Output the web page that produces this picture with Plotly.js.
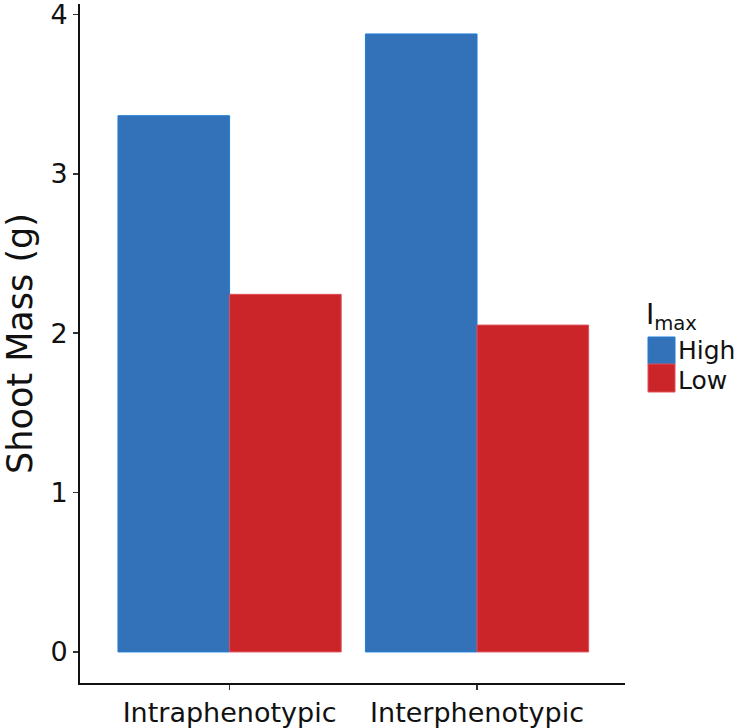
<!DOCTYPE html>
<html>
<head>
<meta charset="utf-8">
<script src="https://cdn.plot.ly/plotly-3.0.1.min.js"></script>
<style>html,body{margin:0;padding:0;background:#fff;}#chart{width:746px;height:728px;}</style>
</head>
<body>
<div id="chart"></div>
<script>
var categories = ["Intraphenotypic", "Interphenotypic"];
var seriesNames = ["High", "Low"];
var highValues = [3.365, 3.878];
var lowValues = [2.244, 2.051];
var yTicks = [0, 1, 2, 3, 4];
var yTitle = "Shoot Mass (g)";
var legendTitle = "I<sub>max</sub>";

var blue = "rgb(51,114,185)";
var red = "rgb(203,37,41)";
var FONT = "DejaVu Sans, Liberation Sans, Arial, sans-serif";

var traces = [
  {type: "bar", name: seriesNames[0], x: categories, y: highValues,
   marker: {color: blue, line: {color: "rgb(30,125,215)", width: 1}}, showlegend: false, hoverinfo: "none"},
  {type: "bar", name: seriesNames[1], x: categories, y: lowValues,
   marker: {color: red, line: {color: "rgb(225,80,90)", width: 1}}, showlegend: false, hoverinfo: "none"}
];

function py(p) { return (683 - p) / 679; }
function px(p) { return (p - 80) / 545; }

var layout = {
  width: 746, height: 728,
  margin: {l: 80, r: 121, t: 4, b: 45},
  paper_bgcolor: "#fff", plot_bgcolor: "#fff",
  barmode: "group", bargap: 0.098, bargroupgap: 0,
  font: {family: FONT, color: "#111"},
  xaxis: {
    type: "category", range: [-0.6045, 1.598],
    showline: true, linecolor: "#111", linewidth: 2,
    ticks: "outside", ticklen: 5, tickwidth: 1.5, tickcolor: "#333",
    tickfont: {size: 27, family: FONT, color: "#111"},
    showgrid: false, zeroline: false
  },
  yaxis: {
    range: [-0.195, 4.066],
    tickvals: yTicks, ticktext: yTicks.map(String),
    ticklabeloverflow: "allow",
    showline: true, linecolor: "#111", linewidth: 2,
    ticks: "outside", ticklen: 5, tickwidth: 1.5, tickcolor: "#333",
    tickfont: {size: 27, family: FONT, color: "#111"},
    title: {text: yTitle, font: {size: 35, family: FONT, color: "#111"}, standoff: 16},
    showgrid: false, zeroline: false
  },
  shapes: [
    {type: "rect", xref: "paper", yref: "paper", x0: px(648), x1: px(675), y0: py(364), y1: py(337),
     fillcolor: blue, line: {color: "rgb(30,125,215)", width: 1}},
    {type: "rect", xref: "paper", yref: "paper", x0: px(648), x1: px(675), y0: py(392), y1: py(364),
     fillcolor: red, line: {color: "rgb(225,80,90)", width: 1}}
  ],
  annotations: [
    {xref: "paper", yref: "paper", x: px(645), y: py(316), xanchor: "left", yanchor: "middle",
     borderpad: 0, text: legendTitle, showarrow: false, font: {size: 28, family: FONT, color: "#111"}},
    {xref: "paper", yref: "paper", x: px(677), y: py(350), xanchor: "left", yanchor: "middle",
     borderpad: 0, text: seriesNames[0], showarrow: false, font: {size: 25, family: FONT, color: "#111"}},
    {xref: "paper", yref: "paper", x: px(677), y: py(380), xanchor: "left", yanchor: "middle",
     borderpad: 0, text: seriesNames[1], showarrow: false, font: {size: 25, family: FONT, color: "#111"}}
  ]
};

Plotly.newPlot("chart", traces, layout, {staticPlot: true, displayModeBar: false});
</script>
</body>
</html>
